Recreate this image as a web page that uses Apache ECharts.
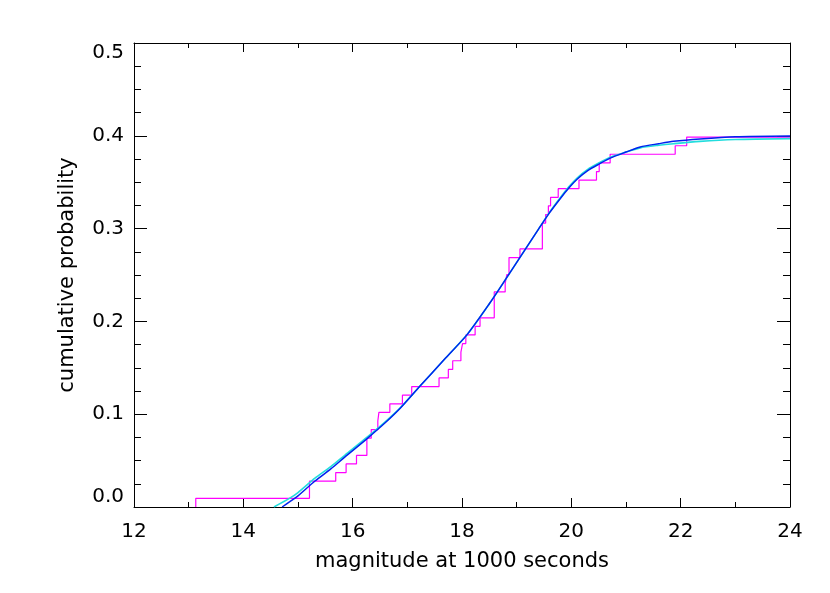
<!DOCTYPE html>
<html>
<head>
<meta charset="utf-8">
<script src="https://cdn.jsdelivr.net/npm/echarts@6/dist/echarts.min.js"></script>
<style>html,body{margin:0;padding:0;background:#fff;}#c{width:830px;height:593px;}</style>
</head>
<body>
<div id="c"></div>
<script>
// Empirical cumulative distribution (magenta steps): jump positions and level after each jump
const stepX = [13.13, 15.21, 15.69, 15.88, 16.07, 16.26, 16.34, 16.46, 16.48, 16.68, 16.91, 17.08, 17.58, 17.75, 17.83, 17.98, 18.01, 18.07, 18.24, 18.33, 18.59, 18.79, 18.82, 18.86, 19.06, 19.47, 19.53, 19.58, 19.62, 19.76, 20.14, 20.46, 20.51, 20.71, 21.90, 22.11];
const stepY = [0.0093, 0.0278, 0.0371, 0.0464, 0.0556, 0.0742, 0.0834, 0.0927, 0.1020, 0.1112, 0.1205, 0.1298, 0.1391, 0.1483, 0.1576, 0.1669, 0.1761, 0.1854, 0.1947, 0.2039, 0.2318, 0.2410, 0.2503, 0.2688, 0.2781, 0.3059, 0.3152, 0.3245, 0.3337, 0.3430, 0.3523, 0.3615, 0.3708, 0.3801, 0.3893, 0.3986];
const stepEndX = 24;

// Model curve 1 (blue)
const blueX = [14.71, 14.85, 15.0, 15.31, 15.6, 15.86, 16.27, 16.6, 16.87, 17.22, 17.7, 18.09, 18.5, 18.8, 19.1, 19.4, 19.6, 19.8, 19.95, 20.11, 20.3, 20.52, 20.71, 21.0, 21.26, 21.6, 21.87, 22.35, 23.0, 24.0];
const blueY = [0, 0.0057, 0.012, 0.028, 0.041, 0.054, 0.074, 0.091, 0.1064, 0.1295, 0.1605, 0.1855, 0.219, 0.2455, 0.2725, 0.2995, 0.317, 0.3325, 0.3435, 0.3534, 0.3625, 0.370, 0.376, 0.3825, 0.388, 0.3915, 0.394, 0.3966, 0.399, 0.3998];

// Model curve 2 (cyan)
const cyanX = [14.56, 14.85, 15.0, 15.31, 15.6, 15.86, 16.27, 16.6, 16.87, 17.22, 17.7, 18.09, 18.5, 18.8, 19.1, 19.4, 19.6, 19.8, 19.95, 20.11, 20.3, 20.52, 20.71, 21.0, 21.26, 21.6, 21.87, 22.35, 23.0, 24.0];
const cyanY = [0, 0.0095, 0.0155, 0.031, 0.0435, 0.056, 0.0755, 0.092, 0.1068, 0.1295, 0.1605, 0.1855, 0.219, 0.2455, 0.2725, 0.2995, 0.3175, 0.3335, 0.3448, 0.3548, 0.3638, 0.3712, 0.377, 0.3825, 0.387, 0.3898, 0.3915, 0.394, 0.396, 0.397];

const xTitle = 'magnitude at 1000 seconds';
const yTitle = 'cumulative probability';

const stepData = [[stepX[0], 0]];
for (let i = 0; i < stepX.length; i++) stepData.push([stepX[i], stepY[i]]);
stepData.push([stepEndX, stepY[stepY.length - 1]]);
const blueData = blueX.map((x, i) => [x, blueY[i]]);
const cyanData = cyanX.map((x, i) => [x, cyanY[i]]);

const font = 'DejaVu Sans';
const lineStyle = { color: '#000', width: 1 };

const chart = echarts.init(document.getElementById('c'), null, { renderer: 'canvas' });
chart.setOption({
  animation: false,
  backgroundColor: '#fff',
  grid: { left: 134, right: 40, top: 43, bottom: 86, containLabel: false },
  xAxis: [
    {
      type: 'value', min: 12, max: 24, interval: 2, position: 'bottom',
      name: xTitle, nameLocation: 'middle', nameGap: 44,
      nameTextStyle: { fontFamily: font, fontSize: 21, color: '#000' },
      axisLine: { show: true, onZero: false, lineStyle },
      axisTick: { show: true, inside: true, length: 9, lineStyle },
      minorTick: { show: true, splitNumber: 2, length: 5, lineStyle },
      axisLabel: { fontFamily: font, fontSize: 20, color: '#000', margin: 15 },
      splitLine: { show: false }
    },
    {
      type: 'value', min: 12, max: 24, interval: 2, position: 'top',
      axisLine: { show: true, onZero: false, lineStyle },
      axisTick: { show: true, inside: true, length: 9, lineStyle },
      minorTick: { show: true, splitNumber: 2, length: 5, lineStyle },
      axisLabel: { show: false },
      splitLine: { show: false }
    }
  ],
  yAxis: [
    {
      type: 'value', min: 0, max: 0.5, interval: 0.1, position: 'left',
      name: yTitle, nameLocation: 'middle', nameGap: 56, nameRotate: 90,
      nameTextStyle: { fontFamily: font, fontSize: 21, color: '#000' },
      axisLine: { show: true, onZero: false, lineStyle },
      axisTick: { show: true, inside: true, length: 13, lineStyle },
      minorTick: { show: true, splitNumber: 4, length: 7, lineStyle },
      axisLabel: {
        fontFamily: font, fontSize: 20, color: '#000', margin: 10,
        formatter: v => v.toFixed(1),
        verticalAlignMinLabel: 'bottom', verticalAlignMaxLabel: 'top'
      },
      splitLine: { show: false }
    },
    {
      type: 'value', min: 0, max: 0.5, interval: 0.1, position: 'right',
      axisLine: { show: true, onZero: false, lineStyle },
      axisTick: { show: true, inside: true, length: 13, lineStyle },
      minorTick: { show: true, splitNumber: 4, length: 7, lineStyle },
      axisLabel: { show: false },
      splitLine: { show: false }
    }
  ],
  series: [
    {
      type: 'line', data: stepData, step: 'end', showSymbol: false,
      lineStyle: { color: '#ff00ff', width: 1.2 }, z: 2
    },
    {
      type: 'line', data: cyanData, smooth: 0.25, showSymbol: false,
      lineStyle: { color: '#22dddd', width: 1.6 }, z: 3
    },
    {
      type: 'line', data: blueData, smooth: 0.25, showSymbol: false,
      lineStyle: { color: '#0022ee', width: 1.5 }, z: 4
    }
  ]
});
</script>
</body>
</html>
